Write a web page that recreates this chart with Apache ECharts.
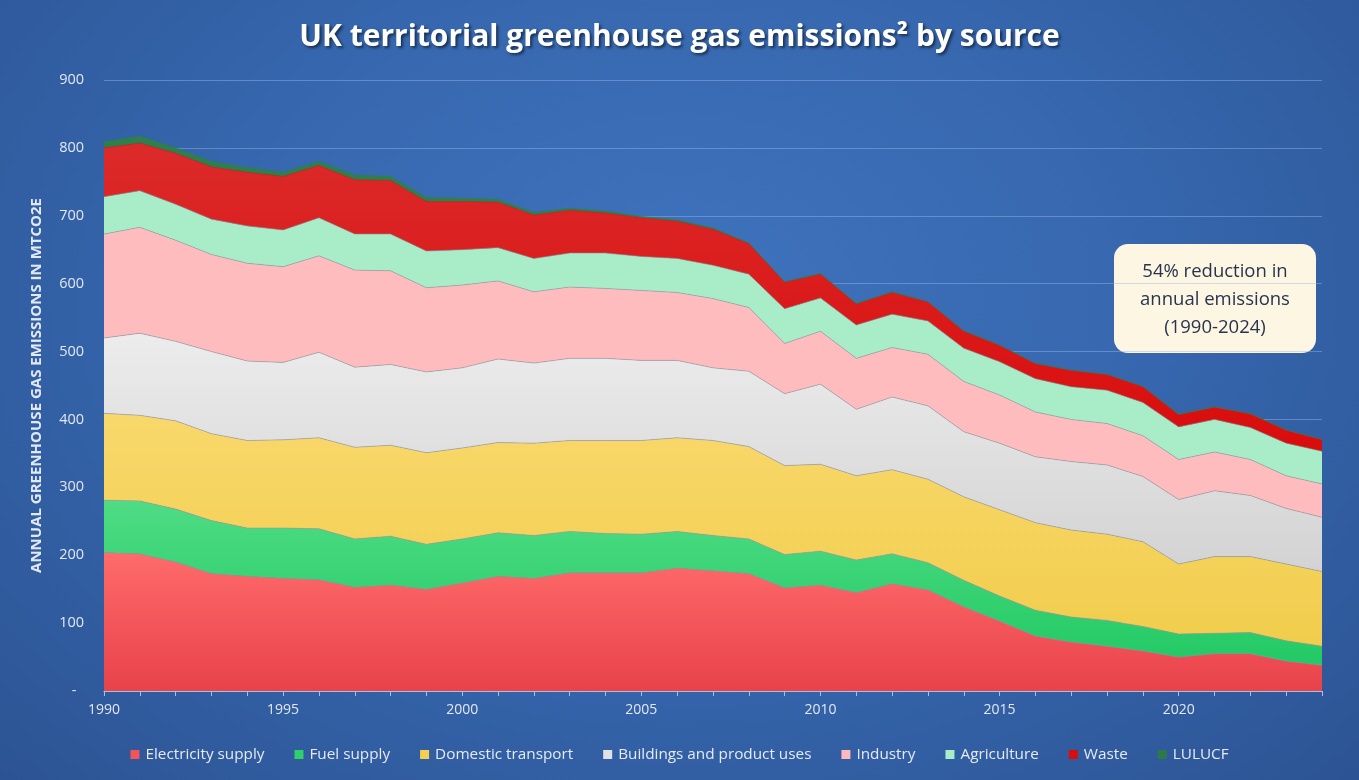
<!DOCTYPE html>
<html>
<head>
<meta charset="utf-8">
<title>UK territorial greenhouse gas emissions by source</title>
<script src="https://cdn.jsdelivr.net/npm/echarts@6/dist/echarts.min.js"></script>
<style>
  html, body { margin: 0; padding: 0; }
  #chart {
    width: 1359px;
    height: 780px;
    background: radial-gradient(ellipse at 50% 38%, #3f73bd 0%, #3768b0 45%, #2c5494 100%);
  }
</style>
</head>
<body>
<div id="chart"></div>
<script>
var years = [];
for (var y = 1990; y <= 2024; y++) years.push(String(y));

// MtCO2e by source
var electricity = [204, 202, 190, 173, 169, 166, 164, 153, 156, 150, 159, 169, 166, 174, 174, 174, 181, 177, 173, 152, 156, 145, 158, 149, 124, 103, 81, 72, 66, 59, 50, 55, 55, 44, 38];
var fuelSupply = [77, 78, 78, 78, 71, 74, 75, 71, 72, 66, 65, 64, 63, 61, 58, 57, 54, 52, 51, 49, 50, 48, 44, 40, 39, 37, 38, 37, 38, 36, 34, 30, 31, 30, 28];
var transport = [128, 126, 130, 128, 129, 130, 134, 135, 134, 135, 134, 133, 136, 134, 137, 138, 138, 140, 136, 131, 128, 124, 124, 123, 123, 127, 129, 128, 127, 125, 103, 113, 112, 113, 110];
var buildings = [111, 121, 117, 121, 117, 114, 126, 118, 119, 119, 118, 123, 118, 121, 121, 118, 114, 107, 111, 106, 118, 98, 107, 108, 96, 98, 97, 101, 102, 96, 95, 97, 90, 82, 80];
var industry = [153, 156, 149, 143, 144, 141, 142, 143, 138, 124, 122, 115, 105, 105, 103, 103, 100, 102, 94, 74, 78, 75, 73, 76, 74, 71, 66, 62, 61, 60, 59, 57, 53, 48, 49];
var agriculture = [55, 54, 53, 52, 55, 54, 56, 53, 54, 54, 52, 49, 49, 50, 52, 50, 50, 49, 49, 51, 49, 49, 49, 49, 49, 49, 49, 48, 49, 49, 48, 48, 47, 48, 48];
var waste = [72, 70, 75, 77, 79, 79, 77, 80, 79, 73, 71, 67, 64, 63, 59, 57, 55, 53, 45, 39, 35, 31, 32, 28, 25, 24, 22, 24, 23, 23, 18, 18, 20, 19, 17];
var lulucf = [9, 10, 8, 8, 7, 6, 6, 7, 6, 6, 5, 4, 4, 3, 3, 2, 2, 2, 1, 1, 1, 1, 1, 0.5, 0.5, 0.5, 0.5, 0.5, 0.5, 0.5, 0.5, 0.5, 0.5, 0.5, 0.5];

var yTicks = [0, 100, 200, 300, 400, 500, 600, 700, 800, 900];

function grad(top, bottom) {
    return new echarts.graphic.LinearGradient(0, 0, 0, 1, [
        { offset: 0, color: top },
        { offset: 1, color: bottom }
    ]);
}

function areaSeries(name, data, fill, legendColor, lineColor) {
    return {
        name: name,
        type: 'line',
        stack: 'total',
        data: data,
        showSymbol: false,
        symbol: 'none',
        color: legendColor,
        lineStyle: { width: 0.6, color: lineColor || '#9b9b9b' },
        areaStyle: { color: fill, opacity: 1 },
        emphasis: { disabled: true }
    };
}

var chart = echarts.init(document.getElementById('chart'));

chart.setOption({
    backgroundColor: 'transparent',
    animation: false,
    textStyle: { fontFamily: '"Open Sans", sans-serif' },
    title: {
        text: 'UK territorial greenhouse gas emissions² by source',
        left: 'center',
        top: 17,
        textStyle: {
            color: '#ffffff',
            fontSize: 30,
            fontWeight: 'bold',
            fontFamily: '"Open Sans", sans-serif',
            textShadowColor: 'rgba(0,0,0,0.55)',
            textShadowBlur: 3,
            textShadowOffsetX: 2,
            textShadowOffsetY: 2
        }
    },
    grid: { left: 104, right: 37, top: 80, bottom: 89 },
    legend: {
        bottom: 13,
        left: 'center',
        icon: 'rect',
        itemWidth: 9,
        itemHeight: 9,
        itemGap: 30,
        textStyle: { color: '#e6eaf3', fontSize: 15.3, fontFamily: '"Open Sans", sans-serif', padding: [0, 0, 0, 1] },
        data: ['Electricity supply', 'Fuel supply', 'Domestic transport', 'Buildings and product uses', 'Industry', 'Agriculture', 'Waste', 'LULUCF']
    },
    xAxis: {
        type: 'category',
        data: years,
        boundaryGap: false,
        axisLine: { lineStyle: { color: '#a9bfdf', width: 1.2 } },
        axisTick: { show: true, interval: 0, length: 5, lineStyle: { color: '#a9bfdf' } },
        axisLabel: {
            color: '#e3e8f2',
            fontSize: 14,
            margin: 12,
            interval: function (i) { return i % 5 === 0; }
        },
        splitLine: { show: false }
    },
    yAxis: {
        type: 'value',
        min: yTicks[0],
        max: yTicks[yTicks.length - 1],
        interval: 100,
        name: 'ANNUAL GREENHOUSE GAS EMISSIONS IN MTCO2E',
        nameLocation: 'middle',
        nameGap: 60,
        nameTextStyle: { color: '#e3e8f2', fontSize: 15, fontWeight: 'bold', fontFamily: '"Open Sans", sans-serif' },
        axisLine: { show: false },
        axisTick: { show: false },
        axisLabel: {
            color: '#e3e8f2',
            fontSize: 14.5,
            margin: 20,
            formatter: function (v) { return v === 0 ? '-  ' : String(v); }
        },
        splitLine: { lineStyle: { color: 'rgba(150,185,235,0.45)', width: 1 } }
    },
    series: [
        areaSeries('Electricity supply', electricity, grad('#ff6b6b', '#e8424a'), '#f25558'),
        areaSeries('Fuel supply', fuelSupply, grad('#4fdc84', '#22c964'), '#2dd06b'),
        areaSeries('Domestic transport', transport, grad('#f9d86c', '#f1cd4c'), '#f5cf50'),
        areaSeries('Buildings and product uses', buildings, grad('#ececec', '#d3d3d3'), '#e2e2e2'),
        areaSeries('Industry', industry, '#ffbcbe', '#ffb8bb'),
        areaSeries('Agriculture', agriculture, '#a9edc8', '#a9edc8'),
        areaSeries('Waste', waste, grad('#dc2a2a', '#d90c0c'), '#d80d0d', '#d41a1a'),
        areaSeries('LULUCF', lulucf, '#2f7f4c', '#2d7a48', '#2f7f4c')
    ],
    graphic: [{
        type: 'group',
        left: 1114,
        top: 244,
        children: [{
            type: 'rect',
            shape: { x: 0, y: 0, width: 202, height: 109, r: 14 },
            style: { fill: '#fdf6e2' }
        }, {
            type: 'text',
            x: 101,
            y: 56,
            style: {
                text: '54% reduction in\nannual emissions\n(1990-2024)',
                fontSize: 18.5,
                fontFamily: '"Open Sans", sans-serif',
                lineHeight: 28,
                fill: '#27344f',
                align: 'center',
                verticalAlign: 'middle'
            }
        }]
    }]
});
</script>
</body>
</html>
